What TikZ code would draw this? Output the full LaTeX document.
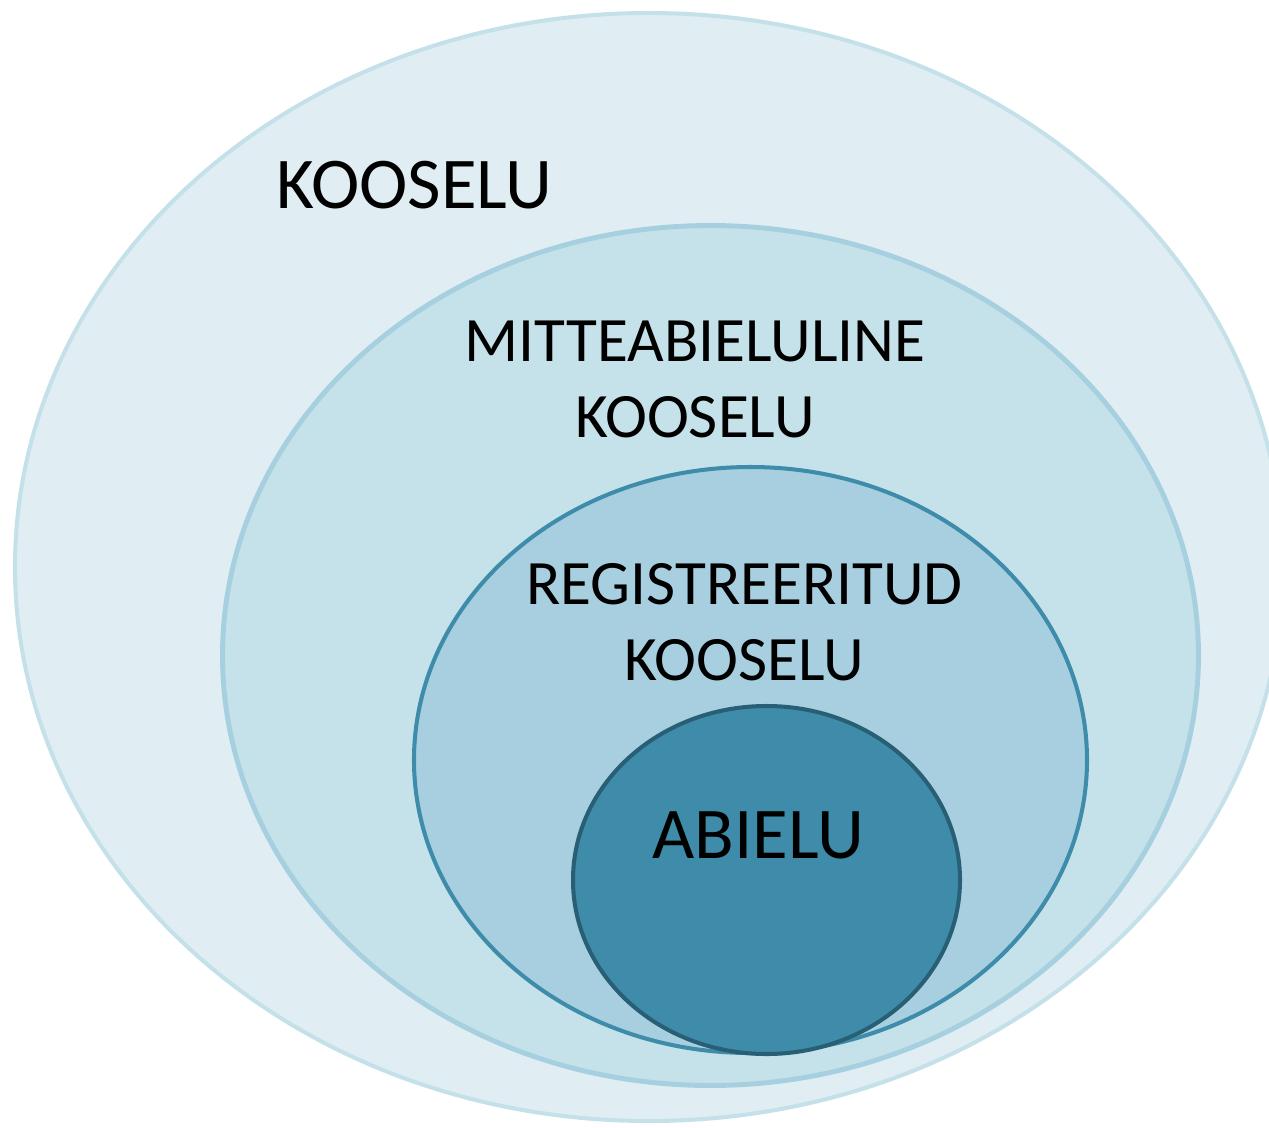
\documentclass[tikz,border=0pt]{standalone}
\usepackage{fontspec}
\setmainfont{Carlito}
\definecolor{ringA}{RGB}{224,238,244}
\definecolor{ringAline}{RGB}{196,225,233}
\definecolor{ringB}{RGB}{197,225,233}
\definecolor{ringBline}{RGB}{166,208,224}
\definecolor{ringC}{RGB}{167,207,224}
\definecolor{ringCline}{RGB}{62,140,170}
\definecolor{ringD}{RGB}{62,140,170}
\definecolor{ringDline}{RGB}{41,95,116}
\begin{document}
\begin{tikzpicture}[x=0.02cm,y=-0.02cm,
		ring/.style={line width=2.3pt},
		bigtext/.style={anchor=base,font=\fontsize{41.5}{50}\selectfont},
		midtext/.style={anchor=base,align=center,font=\fontsize{36}{42.7}\selectfont}]
		\useasboundingbox (0,0) rectangle (1269,1127);
		\clip (0,0) rectangle (1269,1127);
		\fill[white] (0,0) rectangle (1269,1127);
		\draw[ring,fill=ringA,draw=ringAline] (649,567) ellipse [x radius=634,y radius=554];
		\draw[ring,fill=ringB,draw=ringBline,line width=2.8pt] (710.5,655.5) ellipse [x radius=488,y radius=430];
		\draw[ring,fill=ringC,draw=ringCline] (750.5,760) ellipse [x radius=336.5,y radius=293];
		\draw[ring,fill=ringD,draw=ringDline] (766.5,880) ellipse [x radius=193.5,y radius=174];
		\node[bigtext] (kooselu) at (414.5,208) {KOOSELU};
		\node[midtext] (mitte) at (695,437) {MITTEABIELULINE\\KOOSELU};
		\node[midtext] (reg) at (744.5,680) {REGISTREERITUD\\KOOSELU};
		\node[bigtext] (abielu) at (758.5,858) {ABIELU};
	\end{tikzpicture}
\end{document}
